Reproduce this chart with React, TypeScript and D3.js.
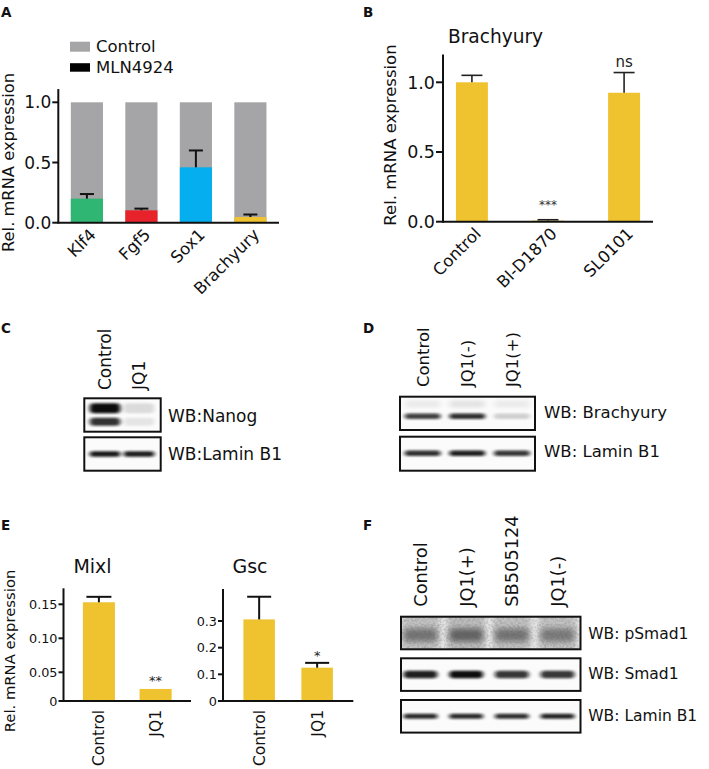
import React from 'react';
import * as d3 from 'd3';

const FONT = '"DejaVu Sans", "Liberation Sans", sans-serif';

// ---------- Panel A ----------
const aGenes = ['Klf4', 'Fgf5', 'Sox1', 'Brachyury'];
const aControl = [1, 1, 1, 1];
const aMLN = [0.2, 0.103, 0.46, 0.047];
const aMLNErr = [0.038, 0.014, 0.14, 0.021];
const aColors = ['#2eb672', '#e8222b', '#05aeee', '#efc230'];
const aTicks = [0, 0.5, 1.0];
const aTickLabels = ['0.0', '0.5', '1.0'];
const aLegend = ['Control', 'MLN4924'];
const aLegendColors = ['#a5a5a7', '#000000'];

// ---------- Panel B ----------
const bGroups = ['Control', 'BI-D1870', 'SL0101'];
const bValues = [1.0, 0.008, 0.925];
const bErr = [0.05, 0.006, 0.145];
const bSig = ['', '***', 'ns'];
const bTicks = [0, 0.5, 1.0];
const bTickLabels = ['0.0', '0.5', '1.0'];

// ---------- Panel E ----------
const eGroups = ['Control', 'JQ1'];
const mixlValues = [0.153, 0.021];
const mixlErr = [0.008, 0];
const mixlSig = ['', '**'];
const mixlTicks = [0, 0.05, 0.1, 0.15];
const mixlTickLabels = ['0', '0.05', '0.10', '0.15'];
const gscValues = [0.306, 0.125];
const gscErr = [0.085, 0.018];
const gscSig = ['', '*'];
const gscTicks = [0, 0.1, 0.2, 0.3];
const gscTickLabels = ['0', '0.1', '0.2', '0.3'];

// ---------- Blots ----------
const cLanes = ['Control', 'JQ1'];
const cNanogUpper = [1.0, 0.13];
const cNanogLower = [0.85, 0.09];
const cLamin = [0.95, 0.93];
const dLanes = ['Control', 'JQ1(-)', 'JQ1(+)'];
const dBrachyury = [0.78, 0.85, 0.18];
const dBrachyuryFaint = [0.1, 0.14, 0.1];
const dLamin = [0.85, 0.92, 0.82];
const fLanes = ['Control', 'JQ1(+)', 'SB505124', 'JQ1(-)'];
const fPSmad1Bg = [0.24, 0.26, 0.24, 0.24];
const fPSmad1 = [0.42, 0.5, 0.42, 0.38];
const fSmad1 = [0.92, 1.0, 0.82, 0.82];
const fLamin = [0.88, 0.88, 0.86, 0.9];

const YELLOW = '#efc230';
const GRAY = '#a5a5a7';

type BandRow = { pos: number; h: number; values: number[]; widen?: number; blur?: string };

function Blot(props: {
  id: string; x: number; y: number; w: number; h: number;
  lanes: d3.ScaleBand<string>; names: string[]; rows: BandRow[]; noise?: boolean;
}) {
  const { id, x, y, w, h, lanes, names, rows, noise } = props;
  const bw = lanes.bandwidth();
  return (
    <g>
      <clipPath id={`clip-${id}`}>
        <rect x={x} y={y} width={w} height={h} />
      </clipPath>
      <rect x={x} y={y} width={w} height={h} fill="#fbfbfb" />
      <g clipPath={`url(#clip-${id})`}>
        {rows.map((r, ri) =>
          names.map((n, i) => {
            const extra = r.widen ?? 0;
            return (
              <rect
                key={`${ri}-${i}`}
                x={(lanes(n) as number) - extra / 2}
                y={y + r.pos * h - r.h / 2}
                width={bw + extra}
                height={r.h}
                rx={Math.min(r.h / 2, 4)}
                fill="#0a0a0a"
                opacity={r.values[i]}
                filter={`url(#${r.blur ?? 'blurBand'})`}
              />
            );
          })
        )}
        {noise && (
          <rect x={x} y={y} width={w} height={h} filter="url(#noise)" opacity={0.6} />
        )}
      </g>
      <rect x={x} y={y} width={w} height={h} fill="none" stroke="#111" strokeWidth={2} />
    </g>
  );
}

function ColLabels(props: { lanes: d3.ScaleBand<string>; names: string[]; bottom: number; size: number }) {
  const { lanes, names, bottom, size } = props;
  return (
    <g>
      {names.map((n) => {
        const cx = (lanes(n) as number) + lanes.bandwidth() / 2;
        return (
          <text key={n} transform={`translate(${cx},${bottom}) rotate(-90)`} dy="0.36em"
            fontSize={size} textAnchor="start" fontFamily={FONT} fill="#111">{n}</text>
        );
      })}
    </g>
  );
}

export default function App() {
  const yA = d3.scaleLinear().domain([0, 1]).range([222.7, 102.3]);
  const xA = d3.scaleBand<string>().domain(aGenes).range([58.3, 279]).paddingInner(0.41).paddingOuter(0.23);
  const axA = 58.3;

  const yB = d3.scaleLinear().domain([0, 1]).range([221.7, 82.3]);
  const xB = d3.scaleBand<string>().domain(bGroups).range([443, 653]).paddingInner(0.58).paddingOuter(0.17);
  const axB = 443;

  const yM = d3.scaleLinear().domain([0, 0.05, 0.15]).range([701, 672.3, 604.3]);
  const xM = d3.scaleBand<string>().domain(eGroups).range([63.5, 191]).paddingInner(0.435).paddingOuter(0.342);
  const axM = 63.5;
  const yG = d3.scaleLinear().domain([0, 0.3]).range([701, 621]);
  const xG = d3.scaleBand<string>().domain(eGroups).range([223, 353.3]).paddingInner(0.457).paddingOuter(0.352);
  const axG = 223;

  const lanesC = d3.scaleBand<string>().domain(cLanes).range([88, 156]).paddingInner(0.1).paddingOuter(0.05);
  const lanesD = d3.scaleBand<string>().domain(dLanes).range([402.5, 532]).paddingInner(0.2).paddingOuter(0.05);
  const lanesF = d3.scaleBand<string>().domain(fLanes).range([399, 579]).paddingInner(0.26).paddingOuter(0.1);

  const axisStroke = { stroke: '#111', strokeWidth: 2, fill: 'none' } as const;

  function yAxis(ax: number, y: d3.ScaleLinear<number, number>, topVal: number, baseY: number,
    ticks: number[], labels: string[], fs: number, tickLen: number) {
    return (
      <g>
        <line x1={ax} x2={ax} y1={y(topVal)} y2={baseY + 1} {...axisStroke} />
        {ticks.map((t, i) => (
          <g key={i}>
            <line x1={ax - tickLen} x2={ax} y1={y(t)} y2={y(t)} {...axisStroke} />
            <text x={ax - tickLen - 1} y={y(t)} dy="0.36em" textAnchor="end" fontSize={fs}
              fontFamily={FONT} fill="#111">{labels[i]}</text>
          </g>
        ))}
      </g>
    );
  }

  function errBar(cx: number, y0: number, y1: number, cap: number, sw = 2, color = '#111') {
    return (
      <g>
        <line x1={cx} x2={cx} y1={y0} y2={y1} stroke={color} strokeWidth={sw} />
        <line x1={cx - cap / 2} x2={cx + cap / 2} y1={y1} y2={y1} stroke={color} strokeWidth={sw} />
      </g>
    );
  }

  const letter = (t: string, x: number, y: number) => (
    <text x={x} y={y} fontSize={13.5} fontWeight="bold" fontFamily={FONT} fill="#111">{t}</text>
  );

  return (
    <svg width={709} height={769} style={{ position: 'absolute', left: 0, top: 0, background: '#fff' }}>
      <defs>
        <filter id="blurBand" x="-30%" y="-100%" width="160%" height="300%">
          <feGaussianBlur stdDeviation="2.2 1.3" />
        </filter>
        <filter id="blurSoft" x="-30%" y="-100%" width="160%" height="300%">
          <feGaussianBlur stdDeviation="3 2.6" />
        </filter>
        <filter id="noise" x="0" y="0" width="100%" height="100%" filterUnits="objectBoundingBox">
          <feTurbulence type="fractalNoise" baseFrequency="0.45" numOctaves="2" seed="7" result="t" />
          <feColorMatrix in="t" type="matrix"
            values="0 0 0 0 0.1  0 0 0 0 0.1  0 0 0 0 0.1  1.1 0 0 0 -0.45" />
        </filter>
      </defs>

      {/* ================= A ================= */}
      {letter('A', 1, 16.5)}
      {aLegend.map((l, i) => (
        <g key={l}>
          <rect x={70} y={41.7 + i * 21.5} width={20} height={i === 0 ? 10 : 8.5} fill={aLegendColors[i]} />
          <text x={96} y={52 + i * 20.5} fontSize={16.5} fontFamily={FONT} fill="#111">{l}</text>
        </g>
      ))}
      {aGenes.map((g, i) => {
        const x = xA(g) as number;
        const w = xA.bandwidth();
        return (
          <g key={g}>
            <rect x={x} y={yA(aControl[i])} width={w} height={yA(0) - yA(aControl[i])} fill={GRAY} />
            <rect x={x} y={yA(aMLN[i])} width={w} height={yA(0) - yA(aMLN[i])} fill={aColors[i]} />
            {errBar(x + w / 2, yA(aMLN[i]), yA(aMLN[i] + aMLNErr[i]), 14)}
          </g>
        );
      })}
      {yAxis(axA, yA, 1.11, yA(0), aTicks, aTickLabels, 17, 6)}
      <line x1={axA} x2={279} y1={yA(0)} y2={yA(0)} {...axisStroke} />
      {aGenes.map((g) => {
        const cx = (xA(g) as number) + xA.bandwidth() / 2;
        return (
          <text key={g} transform={`translate(${cx + 10},${yA(0) + 13}) rotate(-45)`} textAnchor="end"
            fontSize={16.5} fontFamily={FONT} fill="#111">{g}</text>
        );
      })}
      <text transform={`translate(14,162.5) rotate(-90)`} textAnchor="middle" fontSize={16.3}
        fontFamily={FONT} fill="#111">Rel. mRNA expression</text>

      {/* ================= B ================= */}
      {letter('B', 363, 16.5)}
      <text x={495.5} y={43.3} textAnchor="middle" fontSize={18.6} fontFamily={FONT} fill="#111">Brachyury</text>
      {bGroups.map((g, i) => {
        const x = xB(g) as number;
        const w = xB.bandwidth();
        const cx = x + w / 2;
        return (
          <g key={g}>
            <rect x={x} y={yB(bValues[i])} width={w} height={yB(0) - yB(bValues[i])} fill={YELLOW} />
            {errBar(cx, yB(bValues[i]), yB(bValues[i] + bErr[i]), 21, 1.6, '#222')}
            {bSig[i] === 'ns' && (
              <text x={cx} y={66.7} textAnchor="middle" fontSize={15} fontFamily={FONT} fill="#222">ns</text>
            )}
            {bSig[i] === '***' && (
              <text x={cx} y={203.3} dy="0.5em" textAnchor="middle" fontSize={12} fontFamily={FONT} fill="#333">***</text>
            )}
          </g>
        );
      })}
      {yAxis(axB, yB, 1.2, yB(0), bTicks, bTickLabels, 17.5, 7)}
      <line x1={axB} x2={653} y1={yB(0)} y2={yB(0)} {...axisStroke} />
      {bGroups.map((g) => {
        const cx = (xB(g) as number) + xB.bandwidth() / 2;
        return (
          <text key={g} transform={`translate(${cx + 10},${yB(0) + 13}) rotate(-45)`} textAnchor="end"
            fontSize={16.5} fontFamily={FONT} fill="#111">{g}</text>
        );
      })}
      <text transform={`translate(396,135) rotate(-90)`} textAnchor="middle" fontSize={16.5}
        fontFamily={FONT} fill="#111">Rel. mRNA expression</text>

      {/* ================= C ================= */}
      {letter('C', 1, 333.3)}
      <ColLabels lanes={lanesC} names={cLanes} bottom={390} size={17} />
      <Blot id="c1" x={84.3} y={398.3} w={76.4} h={33.4} lanes={lanesC} names={cLanes}
        rows={[
          { pos: 0.3, h: 10, values: cNanogUpper },
          { pos: 0.7, h: 8, values: cNanogLower },
        ]} />
      <Blot id="c2" x={84.3} y={437.3} w={76.4} h={33.4} lanes={lanesC} names={cLanes}
        rows={[{ pos: 0.5, h: 5.5, values: cLamin }]} />
      <text x={168} y={421.7} fontSize={17} fontFamily={FONT} fill="#111">WB:Nanog</text>
      <text x={168} y={460} fontSize={17} fontFamily={FONT} fill="#111">WB:Lamin B1</text>

      {/* ================= D ================= */}
      {letter('D', 363, 333.3)}
      <ColLabels lanes={lanesD} names={dLanes} bottom={387} size={16.5} />
      <Blot id="d1" x={400} y={396.7} w={135} h={33.3} lanes={lanesD} names={dLanes}
        rows={[
          { pos: 0.22, h: 5, values: dBrachyuryFaint, blur: 'blurSoft' },
          { pos: 0.59, h: 5.5, values: dBrachyury },
        ]} />
      <Blot id="d2" x={400} y={436.7} w={135} h={34} lanes={lanesD} names={dLanes}
        rows={[{ pos: 0.49, h: 5.5, values: dLamin }]} />
      <text x={544} y={418.3} fontSize={16.5} fontFamily={FONT} fill="#111">WB: Brachyury</text>
      <text x={544} y={457.3} fontSize={16.5} fontFamily={FONT} fill="#111">WB: Lamin B1</text>

      {/* ================= E ================= */}
      {letter('E', 1, 530)}
      <text transform={`translate(15,651) rotate(-90)`} textAnchor="middle" fontSize={14.8}
        fontFamily={FONT} fill="#111">Rel. mRNA expression</text>
      <text x={92.5} y={573} textAnchor="middle" fontSize={19} fontFamily={FONT} fill="#111">Mixl</text>
      <text x={250} y={573} textAnchor="middle" fontSize={19} fontFamily={FONT} fill="#111">Gsc</text>
      {eGroups.map((g, i) => {
        const x = xM(g) as number;
        const w = xM.bandwidth();
        const cx = x + w / 2;
        return (
          <g key={'m' + g}>
            <rect x={x} y={yM(mixlValues[i])} width={w} height={yM(0) - yM(mixlValues[i])} fill={YELLOW} />
            {mixlErr[i] > 0 && errBar(cx, yM(mixlValues[i]), yM(mixlValues[i] + mixlErr[i]), 25)}
            {mixlSig[i] && (
              <text x={cx} y={677.7} dy="0.55em" textAnchor="middle" fontSize={13} fontFamily={FONT} fill="#222">{mixlSig[i]}</text>
            )}
          </g>
        );
      })}
      {yAxis(axM, yM, 0.1735, yM(0), mixlTicks, mixlTickLabels, 12.8, 5)}
      <line x1={axM} x2={191} y1={yM(0)} y2={yM(0)} {...axisStroke} />
      {eGroups.map((g, i) => {
        const x = xG(g) as number;
        const w = xG.bandwidth();
        const cx = x + w / 2;
        return (
          <g key={'g' + g}>
            <rect x={x} y={yG(gscValues[i])} width={w} height={yG(0) - yG(gscValues[i])} fill={YELLOW} />
            {errBar(cx, yG(gscValues[i]), yG(gscValues[i] + gscErr[i]), 24)}
            {gscSig[i] && (
              <text x={cx} y={653} dy="0.55em" textAnchor="middle" fontSize={13} fontFamily={FONT} fill="#222">{gscSig[i]}</text>
            )}
          </g>
        );
      })}
      {yAxis(axG, yG, 0.42, yG(0), gscTicks, gscTickLabels, 12.8, 5)}
      <line x1={axG} x2={353.3} y1={yG(0)} y2={yG(0)} {...axisStroke} />
      {[xM, xG].map((sc, k) =>
        eGroups.map((g) => {
          const cx = (sc(g) as number) + sc.bandwidth() / 2;
          return (
            <text key={k + g} transform={`translate(${cx},${710}) rotate(-90)`} dy="0.36em" textAnchor="end"
              fontSize={15.5} fontFamily={FONT} fill="#111">{g}</text>
          );
        })
      )}

      {/* ================= F ================= */}
      {letter('F', 363, 530)}
      <ColLabels lanes={lanesF} names={fLanes} bottom={606.7} size={17.8} />
      <Blot id="f1" x={401} y={616.7} w={179.5} h={32.6} lanes={lanesF} names={fLanes} noise
        rows={[
          { pos: 0.5, h: 40, values: fPSmad1Bg, widen: 6, blur: 'blurSoft' },
          { pos: 0.56, h: 13, values: fPSmad1, blur: 'blurSoft' },
        ]} />
      <Blot id="f2" x={401} y={658.3} w={179.5} h={32.6} lanes={lanesF} names={fLanes}
        rows={[{ pos: 0.5, h: 7.5, values: fSmad1 }]} />
      <Blot id="f3" x={401} y={700} w={179.5} h={32.6} lanes={lanesF} names={fLanes}
        rows={[{ pos: 0.5, h: 5, values: fLamin }]} />
      <text x={588.3} y={639.3} fontSize={15.5} fontFamily={FONT} fill="#111">WB: pSmad1</text>
      <text x={588.3} y={679.3} fontSize={15.5} fontFamily={FONT} fill="#111">WB: Smad1</text>
      <text x={588.3} y={720.7} fontSize={15.5} fontFamily={FONT} fill="#111">WB: Lamin B1</text>
    </svg>
  );
}
